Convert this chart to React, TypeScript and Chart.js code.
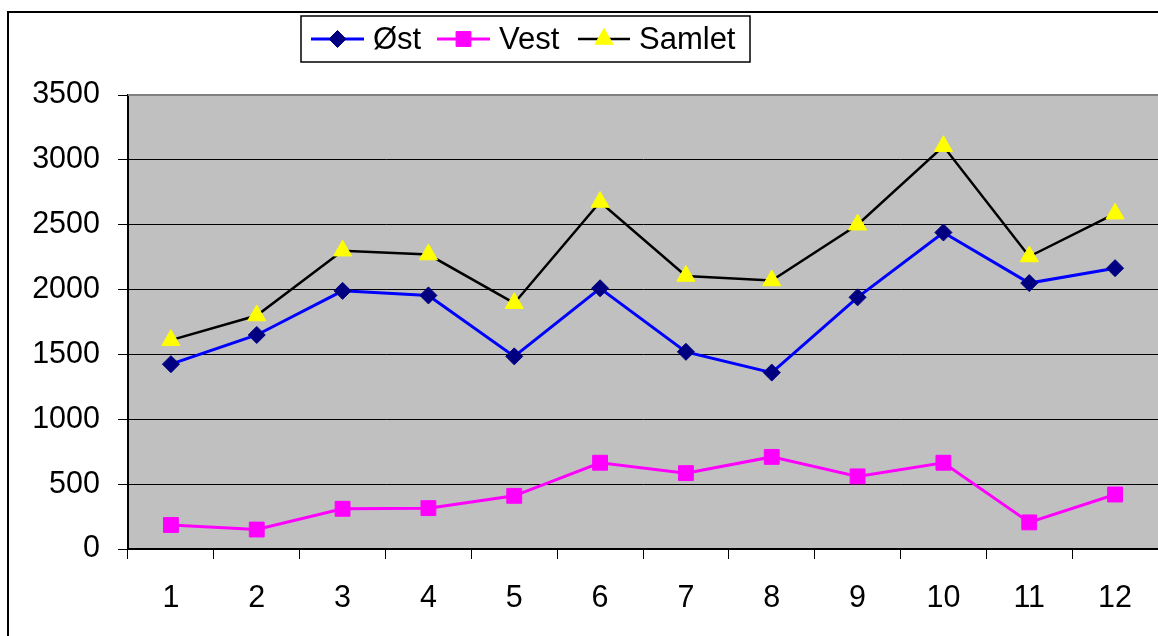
import React, { useEffect, useRef } from "react";
import { Chart, registerables } from "chart.js";

Chart.register(...registerables);

const categories = ["1", "2", "3", "4", "5", "6", "7", "8", "9", "10", "11", "12"];
const ost = [1425, 1650, 1990, 1955, 1485, 2010, 1520, 1360, 1940, 2440, 2050, 2165];
const vest = [185, 150, 310, 315, 410, 665, 585, 710, 560, 665, 205, 420];
const samlet = [1610, 1800, 2300, 2270, 1895, 2675, 2105, 2070, 2500, 3105, 2255, 2585];
const seriesNames = ["Øst", "Vest", "Samlet"];
const yMin = 0;
const yMax = 3500;
const yStep = 500;

const FONT = '"Liberation Sans", Arial, sans-serif';

function drawMarker(ctx: CanvasRenderingContext2D, style: string, r: number, x: number, y: number) {
  ctx.beginPath();
  if (style === "rectRot") {
    ctx.moveTo(x, y - r);
    ctx.lineTo(x + r, y);
    ctx.lineTo(x, y + r);
    ctx.lineTo(x - r, y);
  } else if (style === "rect") {
    const s = Math.SQRT1_2 * r;
    ctx.rect(x - s, y - s, 2 * s, 2 * s);
  } else {
    const a = (Math.PI * 2) / 3;
    for (let k = 0; k < 3; k++) {
      const ang = -Math.PI / 2 + k * a;
      const px = x + Math.cos(ang) * r;
      const py = y + Math.sin(ang) * r;
      if (k === 0) ctx.moveTo(px, py);
      else ctx.lineTo(px, py);
    }
  }
  ctx.closePath();
  ctx.fill();
  ctx.stroke();
}

const bgPlugin = {
  id: "plotBg",
  beforeDraw(chart: any) {
    const { ctx, chartArea } = chart;
    ctx.save();
    ctx.fillStyle = "#FFFFFF";
    ctx.fillRect(0, 0, chart.width, chart.height);
    ctx.fillStyle = "#C0C0C0";
    ctx.fillRect(chartArea.left, chartArea.top, chartArea.right - chartArea.left, chartArea.bottom - chartArea.top);
    ctx.restore();
  },
};

const borderPlugin = {
  id: "plotBorder",
  beforeDatasetsDraw(chart: any) {
    const { ctx, chartArea } = chart;
    ctx.save();
    ctx.strokeStyle = "#808080";
    ctx.lineWidth = 2;
    ctx.beginPath();
    ctx.moveTo(chartArea.left, chartArea.top);
    ctx.lineTo(chartArea.right, chartArea.top);
    ctx.stroke();
    ctx.restore();
  },
};

const legendPlugin = {
  id: "excelLegend",
  afterDraw(chart: any) {
    const { ctx } = chart;
    const box = { x: 301, y: 16, w: 449, h: 46 };
    ctx.save();
    ctx.fillStyle = "#FFFFFF";
    ctx.fillRect(box.x, box.y, box.w, box.h);
    ctx.strokeStyle = "#000000";
    ctx.lineWidth = 1.5;
    ctx.strokeRect(box.x, box.y, box.w, box.h);
    const cy = box.y + box.h / 2;
    const items = [
      { x0: 311, x1: 364, tx: 373 },
      { x0: 437, x1: 490, tx: 499 },
      { x0: 578, x1: 630, tx: 639 },
    ];
    chart.data.datasets.forEach((ds: any, i: number) => {
      const it = items[i];
      ctx.strokeStyle = ds.borderColor;
      ctx.lineWidth = ds.borderWidth;
      ctx.beginPath();
      ctx.moveTo(it.x0, cy);
      ctx.lineTo(it.x1, cy);
      ctx.stroke();
      ctx.fillStyle = ds.pointBackgroundColor;
      ctx.strokeStyle = ds.pointBorderColor;
      ctx.lineWidth = 1;
      drawMarker(ctx, ds.pointStyle, ds.pointRadius, (it.x0 + it.x1) / 2, cy);
      ctx.fillStyle = "#000000";
      ctx.font = `31px ${FONT}`;
      ctx.textBaseline = "middle";
      ctx.textAlign = "left";
      ctx.fillText(ds.label, it.tx, cy + 1);
    });
    ctx.restore();
  },
};

export default function App() {
  const ref = useRef<HTMLCanvasElement | null>(null);

  useEffect(() => {
    if (!ref.current) return;
    const chart = new Chart(ref.current, {
      type: "line",
      data: {
        labels: categories,
        datasets: [
          {
            label: seriesNames[0],
            data: ost,
            borderColor: "#0000FF",
            borderWidth: 3,
            pointStyle: "rectRot",
            pointRadius: 8.5,
            pointBackgroundColor: "#000080",
            pointBorderColor: "#000080",
            pointBorderWidth: 1,
            tension: 0,
          },
          {
            label: seriesNames[1],
            data: vest,
            borderColor: "#FF00FF",
            borderWidth: 3,
            pointStyle: "rect",
            pointRadius: 10.5,
            pointBackgroundColor: "#FF00FF",
            pointBorderColor: "#FF00FF",
            pointBorderWidth: 1,
            tension: 0,
          },
          {
            label: seriesNames[2],
            data: samlet,
            borderColor: "#000000",
            borderWidth: 2.5,
            pointStyle: "triangle",
            pointRadius: 10.5,
            pointBackgroundColor: "#FFFF00",
            pointBorderColor: "#FFFF00",
            pointBorderWidth: 1,
            tension: 0,
          },
        ],
      },
      options: {
        responsive: false,
        animation: false,
        layout: { autoPadding: false, padding: { top: 95, left: 0, right: 0, bottom: 0 } },
        plugins: {
          legend: { display: false },
          tooltip: { enabled: false },
          title: { display: false },
        },
        scales: {
          x: {
            offset: true,
            grid: {
              drawOnChartArea: false,
              offset: true,
              tickLength: 10,
              color: "#000000",
              lineWidth: 1,
            },
            border: { display: true, color: "#000000", width: 2 },
            ticks: {
              color: "#000000",
              font: { family: FONT, size: 30.5 },
              padding: 21,
              maxRotation: 0,
              autoSkip: false,
            },
            afterFit(scale: any) {
              scale.height = 87;
              scale.paddingLeft = 0;
              scale.paddingRight = 0;
            },
          },
          y: {
            min: yMin,
            max: yMax,
            ticks: {
              stepSize: yStep,
              color: "#000000",
              font: { family: FONT, size: 30.5 },
              padding: 18,
              callback: (v: any) => String(v),
            },
            grid: {
              color: "#000000",
              lineWidth: 1,
              tickLength: 10,
            },
            border: { display: true, color: "#000000", width: 2 },
            afterFit(scale: any) {
              scale.width = 128;
              scale.paddingTop = 0;
              scale.paddingBottom = 0;
            },
          },
        },
      },
      plugins: [bgPlugin, borderPlugin, legendPlugin],
    });
    return () => chart.destroy();
  }, []);

  return (
    <div style={{ position: "absolute", left: 0, top: 0, width: 1158, height: 636, overflow: "hidden", background: "#fff" }}>
      <canvas ref={ref} width={1158} height={636} style={{ display: "block" }} />
      <div
        style={{
          position: "absolute",
          left: 7,
          top: 11,
          width: 1300,
          height: 800,
          borderLeft: "2px solid #000",
          borderTop: "2px solid #000",
          pointerEvents: "none",
        }}
      />
    </div>
  );
}
